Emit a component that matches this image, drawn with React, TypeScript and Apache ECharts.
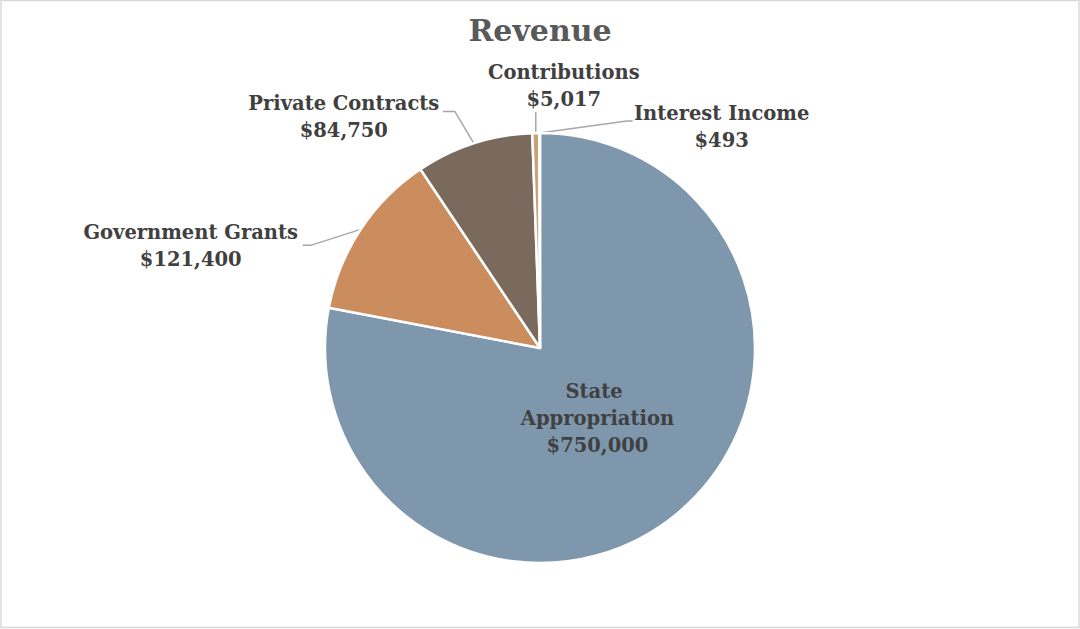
import React, { useEffect, useRef } from "react";
import * as echarts from "echarts";

const titleText = "Revenue";
const categories = [
  "State Appropriation",
  "Government Grants",
  "Private Contracts",
  "Contributions",
  "Interest Income",
];
const values = [750000, 121400, 84750, 5017, 493];
const colors = ["#7F97AD", "#CB8C5E", "#7A695D", "#C9A27A", "#9AA8B6"];

const FONT = "DejaVu Serif";

export default function App() {
  const ref = useRef<HTMLDivElement>(null);
  useEffect(() => {
    if (!ref.current) return;
    const chart = echarts.init(ref.current, null, { renderer: "svg" });
    const data = categories.map((name, i) => ({
      name,
      value: values[i],
      itemStyle: { color: colors[i] },
      label:
        i === 0
          ? {
              position: "inside",
              width: 180,
              overflow: "break",
            }
          : { position: "outside" },
      labelLine: { show: i !== 0 },
    }));
    // label anchor offsets relative to the slice edge point (layout only)
    const layout: Record<number, { dx: number; dy: number; line: number[][] }> = {
      1: { dx: -170, dy: 17, line: [[-50, 16], [-58, 16]] },
      2: { dx: -130, dy: -26, line: [[-19, -32], [-31, -32]] },
      3: { dx: 28, dy: -47, line: [[0, -10], [0, -21]] },
      4: { dx: 182, dy: -6, line: [[87, -12], [93, -12]] },
    };
    chart.setOption({
      animation: false,
      backgroundColor: "#ffffff",
      title: {
        text: titleText,
        left: "center",
        top: 10,
        textStyle: {
          fontFamily: FONT,
          fontSize: 30,
          fontWeight: "bold",
          color: "#595959",
        },
      },
      graphic: [
        {
          type: "rect",
          shape: { x: 1, y: 0.5, width: 1078, height: 627 },
          style: { fill: "none", stroke: "#D9D9D9", lineWidth: 1.5 },
          silent: true,
        },
      ],
      series: [
        {
          type: "pie",
          center: [540, 348],
          radius: 215,
          startAngle: 90,
          clockwise: true,
          avoidLabelOverlap: false,
          itemStyle: { borderColor: "#ffffff", borderWidth: 2.5 },
          label: {
            show: true,
            fontFamily: FONT,
            fontSize: 19.5,
            fontWeight: "bold",
            color: "#404040",
            lineHeight: 27,
            align: "center",
            formatter: (p: any) =>
              `${p.name}\n$${Number(p.value).toLocaleString("en-US")}`,
          },
          labelLine: {
            show: true,
            lineStyle: { color: "#A6A6A6", width: 1.5 },
          },
          labelLayout: (params: any) => {
            if (params.dataIndex === 0) return { dx: -13, dy: -15 };
            const cfg = layout[params.dataIndex];
            const pts = params.labelLinePoints;
            if (!cfg || !pts) return {};
            const [x0, y0] = pts[0];
            return {
              x: x0 + cfg.dx,
              y: y0 + cfg.dy,
              align: "center",
              verticalAlign: "middle",
              labelLinePoints: [
                [x0, y0],
                [x0 + cfg.line[0][0], y0 + cfg.line[0][1]],
                [x0 + cfg.line[1][0], y0 + cfg.line[1][1]],
              ],
            };
          },
          data,
        },
      ],
    });
    return () => chart.dispose();
  }, []);
  return (
    <div
      ref={ref}
      style={{
        position: "absolute",
        left: 0,
        top: 0,
        width: 1080,
        height: 629,
        background: "#fff",
      }}
    />
  );
}
